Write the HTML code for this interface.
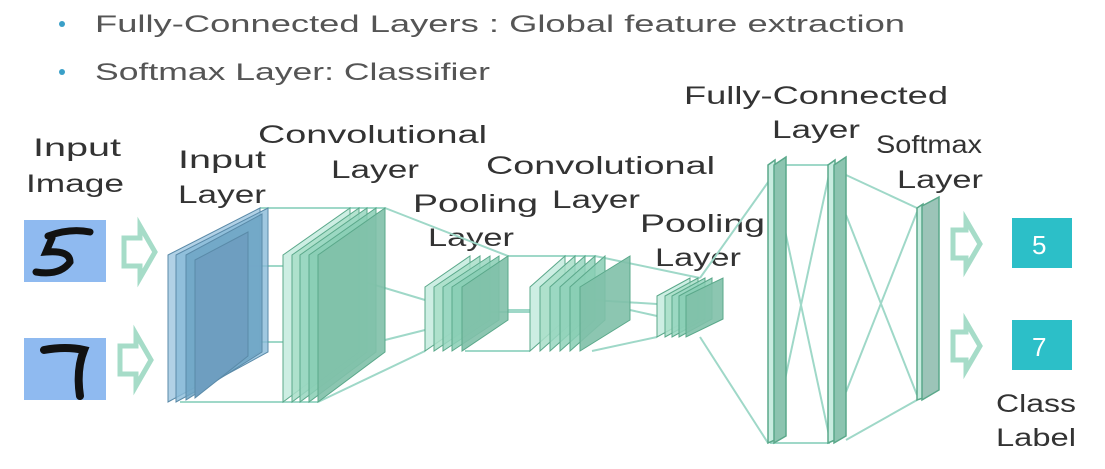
<!DOCTYPE html>
<html><head><meta charset="utf-8"><style>
html,body{margin:0;padding:0;background:#fff;}
svg{display:block;}
text{font-family:"Liberation Sans",sans-serif;fill:#333;}
</style></head><body>
<svg width="1105" height="469" viewBox="0 0 1105 469" xmlns="http://www.w3.org/2000/svg">
<!-- bullets -->
<circle cx="62" cy="24" r="3" fill="#3aa0c8"/>
<circle cx="62" cy="72" r="3" fill="#3aa0c8"/>
<text x="95" y="32" font-size="24" fill="#555" style="fill:#555" textLength="810" lengthAdjust="spacingAndGlyphs">Fully-Connected Layers : Global feature extraction</text>
<text x="95" y="80" font-size="24" style="fill:#555" textLength="395" lengthAdjust="spacingAndGlyphs">Softmax Layer: Classifier</text>

<!-- labels -->
<g font-size="25">
<text x="33" y="156" textLength="88" lengthAdjust="spacingAndGlyphs">Input</text>
<text x="26" y="192" textLength="98" lengthAdjust="spacingAndGlyphs">Image</text>
<text x="178" y="168" textLength="88" lengthAdjust="spacingAndGlyphs">Input</text>
<text x="178" y="203" textLength="88" lengthAdjust="spacingAndGlyphs">Layer</text>
<text x="258" y="143" textLength="229" lengthAdjust="spacingAndGlyphs">Convolutional</text>
<text x="331" y="178" textLength="88" lengthAdjust="spacingAndGlyphs">Layer</text>
<text x="413" y="212" textLength="125" lengthAdjust="spacingAndGlyphs">Pooling</text>
<text x="428" y="246" textLength="86" lengthAdjust="spacingAndGlyphs">Layer</text>
<text x="486" y="174" textLength="229" lengthAdjust="spacingAndGlyphs">Convolutional</text>
<text x="552" y="208" textLength="88" lengthAdjust="spacingAndGlyphs">Layer</text>
<text x="640" y="232" textLength="125" lengthAdjust="spacingAndGlyphs">Pooling</text>
<text x="655" y="266" textLength="86" lengthAdjust="spacingAndGlyphs">Layer</text>
<text x="684" y="104" textLength="264" lengthAdjust="spacingAndGlyphs">Fully-Connected</text>
<text x="772" y="138" textLength="88" lengthAdjust="spacingAndGlyphs">Layer</text>
<text x="876" y="153" textLength="106" lengthAdjust="spacingAndGlyphs">Softmax</text>
<text x="897" y="188" textLength="86" lengthAdjust="spacingAndGlyphs">Layer</text>
<text x="996" y="412" textLength="80" lengthAdjust="spacingAndGlyphs">Class</text>
<text x="996" y="446" textLength="80" lengthAdjust="spacingAndGlyphs">Label</text>
</g>

<!-- input images -->
<rect x="24" y="220" width="82" height="62" fill="#8fbaf0"/>
<path d="M48 236 Q70 228 90 232 M52 238 L46 252 Q70 250 70 262 Q60 276 36 272" stroke="#111" stroke-width="7" fill="none" stroke-linecap="round"/>
<rect x="24" y="338" width="82" height="62" fill="#8fbaf0"/>
<path d="M44 350 Q66 346 84 350 Q76 370 80 396" stroke="#111" stroke-width="8" fill="none" stroke-linecap="round"/>

<!-- hollow arrows -->
<g fill="#fff" stroke="#a6dcc8" stroke-width="5">
<polygon points="124,238 140,238 140,226 155,252 140,278 140,266 124,266"/>
<polygon points="120,346 136,346 136,334 151,360 136,386 136,374 120,374"/>
<polygon points="953,230 966,230 966,220 980,244 966,268 966,258 953,258"/>
<polygon points="953,332 966,332 966,322 980,346 966,370 966,360 953,360"/>
</g>

<!-- connection lines -->
<g stroke="#9fd8c8" stroke-width="2" fill="none">
<line x1="260" y1="208" x2="385" y2="208"/>
<line x1="180" y1="402" x2="318" y2="402"/>
<line x1="195" y1="266" x2="283" y2="266"/>
<line x1="260" y1="342" x2="283" y2="342"/>
<line x1="385" y1="208" x2="508" y2="256"/>
<line x1="318" y1="268" x2="425" y2="300"/>
<line x1="385" y1="340" x2="425" y2="330"/>
<line x1="318" y1="402" x2="425" y2="351"/>
<line x1="508" y1="256" x2="595" y2="256"/>
<line x1="465" y1="351" x2="530" y2="351"/>
<line x1="465" y1="312" x2="530" y2="312"/>
<line x1="508" y1="310" x2="530" y2="310"/>
<line x1="595" y1="256" x2="700" y2="278"/>
<line x1="592" y1="351" x2="657" y2="337"/>
<line x1="592" y1="300" x2="657" y2="304"/>
<line x1="630" y1="310" x2="657" y2="316"/>
<line x1="700" y1="278" x2="786" y2="157"/>
<line x1="700" y1="337" x2="768" y2="443"/>
<line x1="786" y1="165" x2="846" y2="165"/>
<line x1="770" y1="443" x2="830" y2="443"/>
<line x1="772" y1="170" x2="830" y2="440"/>
<line x1="772" y1="440" x2="830" y2="170"/>
<line x1="846" y1="175" x2="917" y2="208"/>
<line x1="846" y1="440" x2="917" y2="400"/>
<line x1="846" y1="215" x2="917" y2="395"/>
<line x1="846" y1="392" x2="917" y2="212"/>
</g>

<!-- input layer (blue) -->
<g stroke="#5a8aa8" stroke-width="1">
<polygon points="168,255 260,208 260,352 168,402" fill="#9ec6e0" fill-opacity="0.8"/>
<polygon points="176,255 268,208 268,352 176,402" fill="#88bad8" fill-opacity="0.8"/>
<polygon points="186,255 262,214 262,352 186,400" fill="#6fa4c4" fill-opacity="0.85"/>
<polygon points="195,260 248,232 248,356 195,398" fill="#6e9ec0"/>
</g>

<!-- conv layer -->
<g stroke="#5aa88a" stroke-width="1">
<polygon points="283,255 350,208 350,352 283,402" fill="#c8ece0" fill-opacity="0.9"/>
<polygon points="292,255 359,208 359,352 292,402" fill="#a8dec8" fill-opacity="0.85"/>
<polygon points="300,255 367,208 367,352 300,402" fill="#98d6bf" fill-opacity="0.85"/>
<polygon points="309,255 376,208 376,352 309,402" fill="#88ceb4" fill-opacity="0.85"/>
<polygon points="318,255 385,208 385,352 318,402" fill="#80c0a8" fill-opacity="0.9"/>
</g>

<!-- pool1 -->
<g stroke="#5aa88a" stroke-width="1">
<polygon points="425,287 470,256 470,320 425,351" fill="#c8ece0" fill-opacity="0.9"/>
<polygon points="434,287 480,256 480,320 434,351" fill="#a8dec8" fill-opacity="0.85"/>
<polygon points="443,287 490,256 490,320 443,351" fill="#98d6bf" fill-opacity="0.85"/>
<polygon points="452,287 499,256 499,320 452,351" fill="#88ceb4" fill-opacity="0.85"/>
<polygon points="462,287 508,256 508,320 462,351" fill="#80c0a8" fill-opacity="0.9"/>
</g>

<!-- conv2 -->
<g stroke="#5aa88a" stroke-width="1">
<polygon points="530,287 565,256 565,320 530,351" fill="#c8ece0" fill-opacity="0.9"/>
<polygon points="540,287 575,256 575,320 540,351" fill="#a8dec8" fill-opacity="0.85"/>
<polygon points="550,287 585,256 585,320 550,351" fill="#98d6bf" fill-opacity="0.85"/>
<polygon points="560,287 595,256 595,320 560,351" fill="#90d2ba" fill-opacity="0.85"/>
<polygon points="570,287 605,256 605,320 570,351" fill="#88ceb4" fill-opacity="0.85"/>
<polygon points="580,287 630,256 630,320 580,351" fill="#80c0a8" fill-opacity="0.9"/>
</g>

<!-- pool2 -->
<g stroke="#5aa88a" stroke-width="1">
<polygon points="657,296 690,278 690,319 657,337" fill="#c8ece0" fill-opacity="0.9"/>
<polygon points="665,296 698,278 698,319 665,337" fill="#a8dec8" fill-opacity="0.85"/>
<polygon points="672,296 705,278 705,319 672,337" fill="#98d6bf" fill-opacity="0.85"/>
<polygon points="679,296 712,278 712,319 679,337" fill="#88ceb4" fill-opacity="0.85"/>
<polygon points="686,296 723,278 723,319 686,337" fill="#80c0a8" fill-opacity="0.9"/>
</g>

<!-- FC layers -->
<g stroke="#5aa88a" stroke-width="1.5">
<polygon points="768,165 775,160 775,440 768,443" fill="#c8ece0"/>
<polygon points="774,165 786,157 786,436 774,443" fill="#8cc4b0"/>
<polygon points="828,165 835,160 835,440 828,443" fill="#c8ece0"/>
<polygon points="834,165 846,157 846,436 834,443" fill="#8cc4b0"/>
<polygon points="917,208 923,204 923,398 917,400" fill="#c8ece0"/>
<polygon points="922,206 939,197 939,390 922,400" fill="#9cc4b8"/>
</g>

<!-- outputs -->
<rect x="1012" y="218" width="60" height="50" fill="#2cbfc8"/>
<text x="1032" y="254" font-size="26" style="fill:#fff">5</text>
<rect x="1012" y="320" width="60" height="50" fill="#2cbfc8"/>
<text x="1032" y="356" font-size="26" style="fill:#fff">7</text>
</svg>
</body></html>
